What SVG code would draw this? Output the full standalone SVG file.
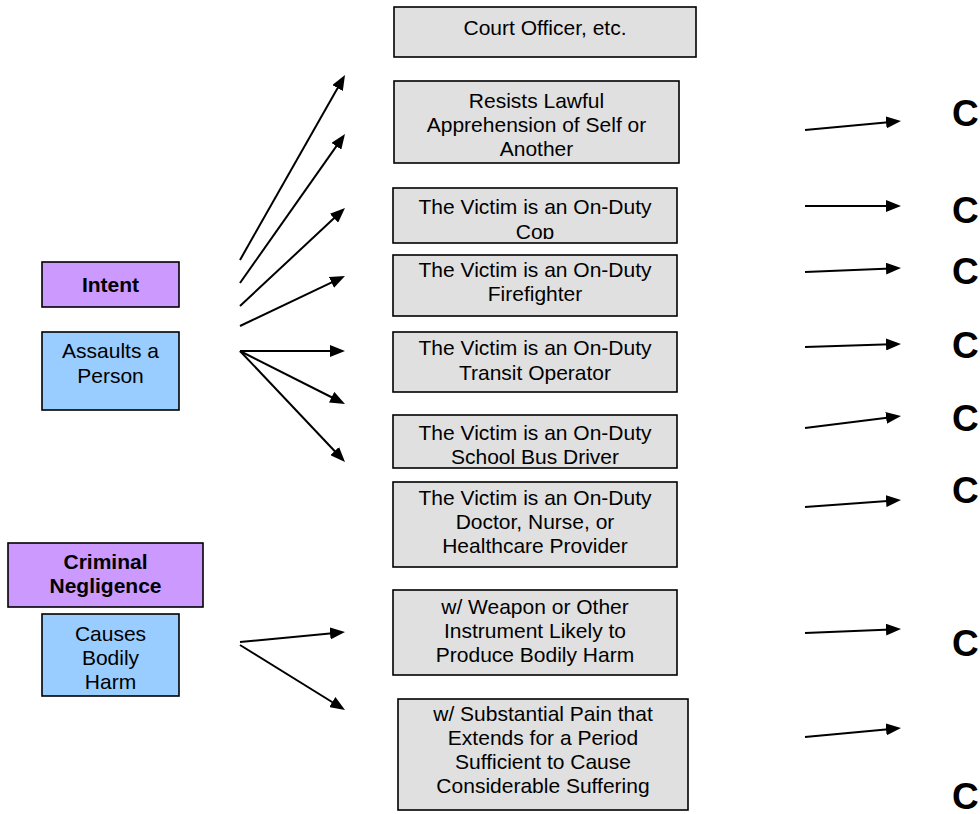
<svg xmlns="http://www.w3.org/2000/svg" width="980" height="814" viewBox="0 0 980 814">
  <style>
    .box { stroke: #000; stroke-width: 1.6; }
    .grey { fill: #e0e0e0; }
    .purple { fill: #cc99ff; }
    .blue { fill: #99ccff; }
    text { font-family: "Liberation Sans", Arial, sans-serif; font-size: 21px; fill: #000; text-anchor: middle; }
    .b { font-weight: bold; }
    .big { font-size: 37px; font-weight: bold; text-anchor: start; }
    .arrow { stroke: #000; stroke-width: 2; fill: none; marker-end: url(#head); }
  </style>
  <defs>
    <marker id="head" viewBox="0 0 15 12" markerWidth="15" markerHeight="12" refX="5" refY="6" orient="auto" markerUnits="userSpaceOnUse">
      <path d="M0,0 L15,6 L0,12 z" fill="#000"/>
    </marker>
    <clipPath id="clipCop"><rect x="394" y="189" width="282" height="50"/></clipPath>
    <clipPath id="clipBus"><rect x="394" y="416" width="282" height="48"/></clipPath>
  </defs>
  <rect width="980" height="814" fill="#fff"/>

  <!-- left-hand elements -->
  <g id="intent">
    <rect class="box purple" x="42" y="262" width="137" height="45"/>
    <text class="b" x="110.5" y="292">Intent</text>
  </g>
  <g id="assaults">
    <rect class="box blue" x="42" y="332" width="137" height="78"/>
    <text x="110.5" y="358">Assaults a</text>
    <text x="110.5" y="383">Person</text>
  </g>
  <g id="negligence">
    <rect class="box purple" x="8" y="543" width="195" height="64"/>
    <text class="b" x="105.5" y="569">Criminal</text>
    <text class="b" x="105.5" y="593">Negligence</text>
  </g>
  <g id="bodily-harm">
    <rect class="box blue" x="42" y="614" width="137" height="82"/>
    <text x="110.5" y="641">Causes</text>
    <text x="110.5" y="665">Bodily</text>
    <text x="110.5" y="689">Harm</text>
  </g>

  <!-- middle column -->
  <g id="court-officer">
    <rect class="box grey" x="394" y="7" width="302" height="50"/>
    <text x="545" y="35">Court Officer, etc.</text>
  </g>
  <g id="resists">
    <rect class="box grey" x="394" y="81" width="285" height="82"/>
    <text x="536.5" y="108">Resists Lawful</text>
    <text x="536.5" y="132">Apprehension of Self or</text>
    <text x="536.5" y="156">Another</text>
  </g>
  <g id="cop">
    <rect class="box grey" x="393" y="188" width="284" height="55"/>
    <g clip-path="url(#clipCop)">
      <text x="535" y="214">The Victim is an On-Duty</text>
      <text x="535" y="239">Cop</text>
    </g>
  </g>
  <g id="firefighter">
    <rect class="box grey" x="393" y="255" width="284" height="61"/>
    <text x="535" y="277">The Victim is an On-Duty</text>
    <text x="535" y="301">Firefighter</text>
  </g>
  <g id="transit">
    <rect class="box grey" x="393" y="332" width="284" height="60"/>
    <text x="535" y="355">The Victim is an On-Duty</text>
    <text x="535" y="380">Transit Operator</text>
  </g>
  <g id="school-bus">
    <rect class="box grey" x="393" y="415" width="284" height="53"/>
    <g clip-path="url(#clipBus)">
      <text x="535" y="440">The Victim is an On-Duty</text>
      <text x="535" y="464">School Bus Driver</text>
    </g>
  </g>
  <g id="healthcare">
    <rect class="box grey" x="393" y="482" width="284" height="85"/>
    <text x="535" y="505">The Victim is an On-Duty</text>
    <text x="535" y="529">Doctor, Nurse, or</text>
    <text x="535" y="553">Healthcare Provider</text>
  </g>
  <g id="weapon">
    <rect class="box grey" x="393" y="590" width="284" height="85"/>
    <text x="535" y="614">w/ Weapon or Other</text>
    <text x="535" y="638">Instrument Likely to</text>
    <text x="535" y="662">Produce Bodily Harm</text>
  </g>
  <g id="substantial-pain">
    <rect class="box grey" x="398" y="699" width="290" height="111"/>
    <text x="543" y="721">w/ Substantial Pain that</text>
    <text x="543" y="745">Extends for a Period</text>
    <text x="543" y="769">Sufficient to Cause</text>
    <text x="543" y="793">Considerable Suffering</text>
  </g>

  <!-- right-hand letters -->
  <g id="results">
    <text class="big" x="952" y="126">C</text>
    <text class="big" x="952" y="223">C</text>
    <text class="big" x="952" y="284">C</text>
    <text class="big" x="952" y="358">C</text>
    <text class="big" x="952" y="431">C</text>
    <text class="big" x="952" y="503">C</text>
    <text class="big" x="952" y="656">C</text>
    <text class="big" x="952" y="809">C</text>
  </g>

  <!-- connectors -->
  <g id="connectors">
    <line class="arrow" x1="240" y1="260" x2="340.06" y2="83.70"/>
    <line class="arrow" x1="240" y1="283" x2="339.24" y2="142.17"/>
    <line class="arrow" x1="240" y1="306" x2="337.69" y2="214.82"/>
    <line class="arrow" x1="240" y1="326" x2="335.97" y2="280.30"/>
    <line class="arrow" x1="240" y1="351" x2="335" y2="351"/>
    <line class="arrow" x1="240" y1="351" x2="336.07" y2="399.49"/>
    <line class="arrow" x1="240" y1="351" x2="338.13" y2="454.74"/>
    <line class="arrow" x1="240" y1="642" x2="335.05" y2="632.95"/>
    <line class="arrow" x1="240" y1="645" x2="336.50" y2="704.74"/>

    <line class="arrow" x1="805" y1="130" x2="891.04" y2="121.93"/>
    <line class="arrow" x1="805" y1="206" x2="891" y2="206"/>
    <line class="arrow" x1="805" y1="272" x2="891.01" y2="268.42"/>
    <line class="arrow" x1="805" y1="347" x2="891.0" y2="344.31"/>
    <line class="arrow" x1="805" y1="428" x2="891.08" y2="417.24"/>
    <line class="arrow" x1="805" y1="507" x2="891.03" y2="500.73"/>
    <line class="arrow" x1="805" y1="633" x2="891.01" y2="629.42"/>
    <line class="arrow" x1="805" y1="737" x2="891.04" y2="728.93"/>
  </g>
</svg>
